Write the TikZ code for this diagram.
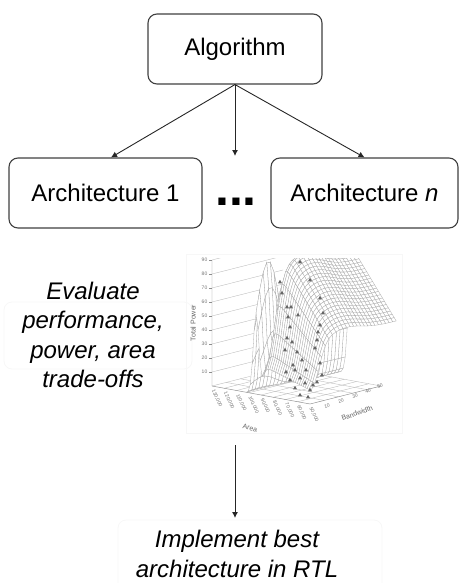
\documentclass[tikz,border=0pt]{standalone}
\usepackage{fontspec}
\setmainfont{Liberation Sans}
\usetikzlibrary{arrows.meta}
\begin{document}
\begin{tikzpicture}[x=1pt,y=-1pt,
  box/.style={draw=black!75, line width=1.1pt, rounded corners=9pt, fill=white, inner sep=0pt},
  big/.style={font=\fontsize{24}{29.5}\selectfont},
  conn/.style={draw=black!85, line width=0.9pt, -{Latex[length=6pt,width=6pt]}},
  tick/.style={font=\fontsize{5}{6}\selectfont, text=black!55, inner sep=0pt},
  axlab/.style={font=\fontsize{7}{8}\selectfont, text=black!60, inner sep=0pt},
  mesh/.style={draw=black!33, line width=0.3pt, fill=white},
  gridl/.style={draw=black!28, line width=0.35pt},
  edge3/.style={draw=black!45, line width=0.45pt},
  faint/.style={draw=black!3, line width=0.8pt, rounded corners=8pt},
  mark3/.style={fill=black!60},
  declare function={
    sg(\x)=1/(1+exp(-max(-9,min(9,\x))));
    gs(\x)=exp(-min(9,\x*\x));
    zz(\a,\b)=92*gs((\a-0.45)/0.04)*gs((\b-0.17)/0.25)
      + sg((\a-0.52)/0.015)*(95-104*(\a-0.52))*(0.15+0.85*sg((\b-0.12)/0.05))*(1+0.1*gs((\b-0.5)/0.3));
    px(\a,\b)=212+98*\a+71*\b;
    py(\a,\b)=386+18*\a-18*\b-1.4*zz(\a,\b);
  }
]
\useasboundingbox (0,0) rectangle (459,583);

% faint background frames
\draw[faint] (4,302) rectangle (192,369);
\draw[faint, rounded corners=0pt] (186,254) rectangle (402,433);
\draw[faint] (118,520) rectangle (382,600);

% top part
\node[box, big, minimum width=174pt, minimum height=70pt] (alg) at (235,49) {Algorithm};
\node[box, big, minimum width=193pt, minimum height=70pt] (a1) at (105.5,193) {Architecture 1};
\node[box, big, minimum width=187pt, minimum height=70pt] (an) at (364.5,193) {Architecture \textit{n}};
\node[font=\fontsize{50}{50}\selectfont\bfseries, anchor=base, inner sep=0pt] (dots) at (236,205) {...};
\coordinate (mid) at (235,156);
\draw[conn] (alg.south) -- ([xshift=5.5pt]a1.north);
\draw[conn] (alg.south) -- (mid);
\draw[conn] (alg.south) -- (an.north);

% evaluate text
\node[font=\fontsize{24}{29.5}\selectfont\itshape, align=center] (eval) at (93,335)
  {Evaluate\\performance,\\power, area\\trade-offs};

% ---------- 3D plot ----------
% floor grid
\foreach \i in {1,...,7} {
  \draw[gridl] ({px(\i/8,0)},{386+18*\i/8}) -- ({px(\i/8,1)},{386+18*\i/8-18});
}
\foreach \j in {1,...,4} {
  \draw[gridl] ({px(0,\j/5)},{386-18*\j/5}) -- ({px(1,\j/5)},{386+18-18*\j/5});
}
% back wall grid
\begin{scope}
\clip (150,258.5) rectangle (430,440);
\foreach \v in {10,20,...,90} {
  \draw[gridl] (212,{386-1.4*\v}) -- (283,{368-1.4*\v});
}
\end{scope}
\foreach \v in {10,20,...,90} {
  \draw[edge3] (209,{386-1.4*\v}) -- (212,{386-1.4*\v});
  \node[tick, anchor=east] (zt\v) at (207.5,{386-1.4*\v}) {\v};
}
\coordinate (pL) at (212,386);
\coordinate (pF) at (310,404);
\coordinate (pR) at (381,386);
\coordinate (pB) at (283,368);
\coordinate (pT) at (212,260);
\draw[edge3] (pT) -- (pL) -- (pF) -- (pR);
\draw[gridl] (pL) -- (pB) -- (pR);

% surface
\begin{scope}
\clip (150,258) rectangle (430,440);
\foreach \i in {0,...,32} {
  \pgfmathsetmacro\aa{0.35+0.02*\i}
  \pgfmathsetmacro\ab{\aa+0.02}
  \foreach \j in {23,22,...,0} {
    \pgfmathsetmacro\ba{0.05*\j}
    \pgfmathsetmacro\bb{\ba+0.05}
    \draw[mesh] ({px(\aa,\ba)},{py(\aa,\ba)}) -- ({px(\ab,\ba)},{py(\ab,\ba)})
      -- ({px(\ab,\bb)},{py(\ab,\bb)}) -- ({px(\aa,\bb)},{py(\aa,\bb)}) -- cycle;
  }
}
\end{scope}

% data markers
\foreach \x/\y in {300/262,280/282,282/293,310/280,287/307,291/307,288/317,298/315,
  320/298,323/313,290/327,320/325,318/332,287/338,292/342,317/340,285/350,297/352,
  315/348,293/365,320/363,295/370,322/375,300/378,290/380,305/383,317/382,295/388,
  310/390,300/395,308/397,313/385,286/372,302/360,306/370} {
  \fill[mark3] (\x,\y-2.2) -- (\x+2,\y+1.3) -- (\x-2,\y+1.3) -- cycle;
}

% area tick labels
\foreach \t/\lab in {0/{130,000},1/{120,000},2/{110,000},3/{100,000},4/{90,000},5/{80,000},6/{70,000},7/{60,000},8/{50,000}} {
  \node[tick, anchor=west, rotate=-65] (ar\t) at ({213+12.2*\t},{390+2.2*\t}) {\lab};
}
\node[axlab, rotate=-12] (arealab) at (250,428) {Area};
% bandwidth tick labels
\foreach \x/\y/\lab in {327/406/10,341/401/20,355/396/30,368/391/40,380/386/50} {
  \node[tick, rotate=15] (bw\lab) at (\x,\y) {\lab};
}
\node[axlab, rotate=20] (bwlab) at (357,413) {Bandwidth};
\node[axlab, rotate=90] (tplab) at (193,323) {Total Power};

% bottom
\coordinate (plotbot) at (235,445);
\coordinate (implTop) at (235,518);
\draw[conn] (plotbot) -- (implTop);
\node[font=\fontsize{24}{29.5}\selectfont\itshape, align=center] (impl) at (237,554)
  {Implement best\\architecture in RTL};
\end{tikzpicture}
\end{document}
